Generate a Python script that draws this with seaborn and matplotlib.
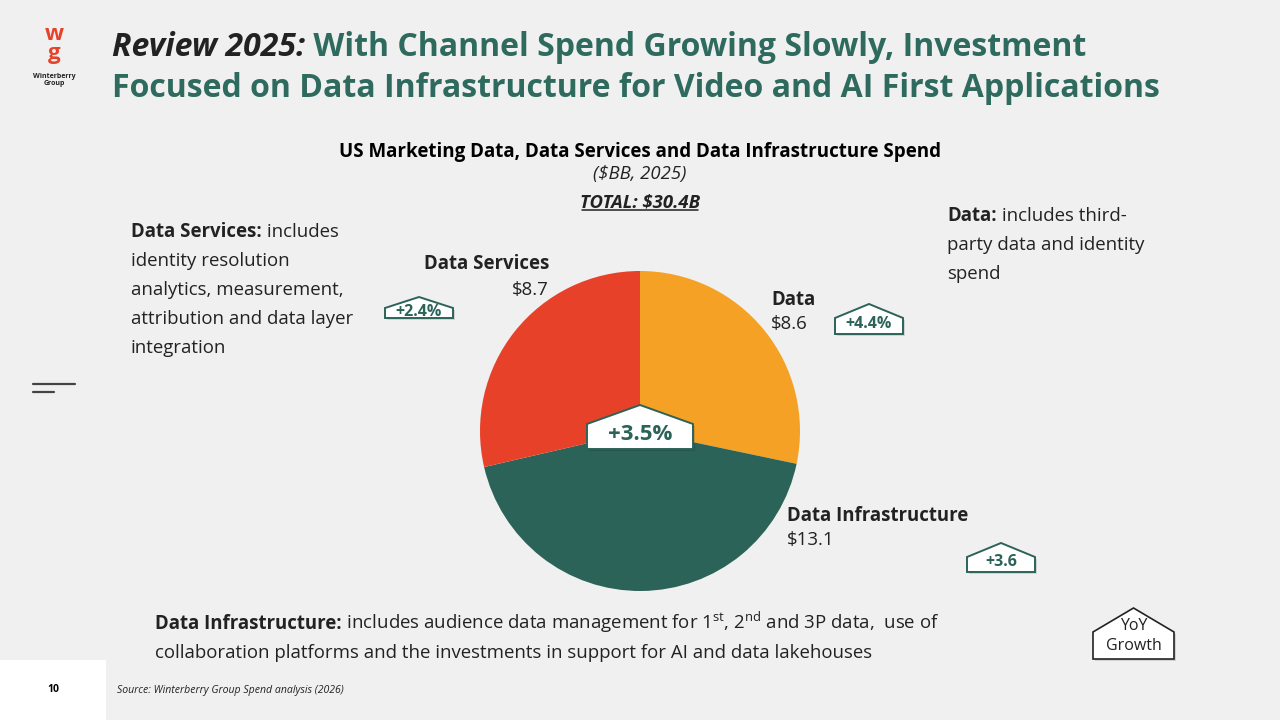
import matplotlib
matplotlib.use("Agg")
import matplotlib.pyplot as plt
import seaborn as sns
from matplotlib.patches import Polygon, Rectangle

# data
segments = ["Data", "Data Infrastructure", "Data Services"]
spend = [8.6, 13.1, 8.7]
growth = ["+4.4%", "+3.6", "+2.4%"]
total_growth = "+3.5%"
total_label = "TOTAL: $30.4B"

sns.set_theme(style="white")
plt.rcParams["font.family"] = ["Open Sans", "DejaVu Sans"]
plt.rcParams["mathtext.fontset"] = "custom"
plt.rcParams["mathtext.rm"] = "Open Sans"

BG = "#f0f0f0"
GREEN = "#2c6358"
TITLE_GREEN = "#2e6b5e"
DARK = "#222222"
palette = sns.color_palette(["#f5a125", "#2c6358", "#e8412a"])

fig = plt.figure(figsize=(12.8, 7.2), dpi=100, facecolor=BG)

# pie: centre (640, 431) px, radius 160 px
pie_ax = fig.add_axes([480 / 1280, (720 - 591) / 720, 320 / 1280, 320 / 720])
pie_ax.pie(spend, colors=palette, startangle=90, counterclock=False,
           radius=1, wedgeprops=dict(linewidth=0))
pie_ax.set_xlim(-1, 1)
pie_ax.set_ylim(-1, 1)
pie_ax.set_facecolor("none")

ov = fig.add_axes([0, 0, 1, 1], zorder=5)
ov.set_xlim(0, 1280)
ov.set_ylim(720, 0)
ov.axis("off")
ov.patch.set_alpha(0)


def chain(prev, text, **kw):
    # put text right after prev, on the same baseline
    fig.canvas.draw()
    x1 = prev.get_window_extent().x1
    x, y = prev.get_position()
    return ov.text(x1, y, text, va="baseline", ha="left", **kw)


def house(x0, x1, apex, shoulder, bottom, label, size, color=GREEN, weight="bold", lw=1.4,
          ls=1.0, frac=0.35):
    xm = (x0 + x1) / 2
    pts = [(x0, bottom), (x0, shoulder), (xm, apex), (x1, shoulder), (x1, bottom)]
    shadow = Polygon([(x + 2, y + 2) for x, y in pts], closed=True, fc="#000000", alpha=0.12, ec="none")
    ov.add_patch(shadow)
    ov.add_patch(Polygon(pts, closed=True, fc="white", ec=color, lw=lw))
    ov.text(xm, shoulder + frac * (bottom - shoulder), label, ha="center", va="center",
            fontsize=size, fontweight=weight, color=color, linespacing=ls)


# title
t1 = ov.text(112, 56, "Review 2025:", fontsize=23, fontweight="bold", fontstyle="italic",
             color=DARK, va="baseline")
chain(t1, " With Channel Spend Growing Slowly, Investment", fontsize=23,
      fontweight="bold", color=TITLE_GREEN)
ov.text(112, 97, "Focused on Data Infrastructure for Video and AI First Applications",
        fontsize=23, fontweight="bold", color=TITLE_GREEN, va="baseline")

# logo
ov.text(54, 34, "w", fontsize=16, fontweight="bold", color="#e8412a", ha="center", va="center")
ov.text(54, 53, "g", fontsize=16, fontweight="bold", color="#e8412a", ha="center", va="center")
ov.text(54, 80, "Winterberry\nGroup", fontsize=5, fontweight="bold", color=DARK,
        ha="center", va="center", linespacing=1.1)

# left dashes
ov.plot([33, 75], [384, 384], color="#444444", lw=1.6)
ov.plot([33, 54], [392, 392], color="#444444", lw=1.6)

# chart titles
ov.text(640, 152, "US Marketing Data, Data Services and Data Infrastructure Spend",
        fontsize=13.5, fontweight="bold", color="black", ha="center", va="center")
ov.text(640, 174, "($BB, 2025)", fontsize=13.3, fontstyle="italic", color=DARK,
        ha="center", va="center")
tt = ov.text(640, 203, total_label, fontsize=13.3, fontweight="bold", fontstyle="italic",
             color=DARK, ha="center", va="center")
fig.canvas.draw()
bb = tt.get_window_extent()
ov.plot([bb.x0 + 2, bb.x1 - 2], [720 - bb.y0 - 2, 720 - bb.y0 - 2], color=DARK, lw=1.1)

# slice labels
LBL = 13.4
ov.text(549, 264, segments[2], fontsize=LBL, fontweight="bold", color=DARK, ha="right", va="center")
ov.text(549, 290, f"${spend[2]:.1f}", fontsize=LBL, color=DARK, ha="right", va="center")
ov.text(771, 300, segments[0], fontsize=LBL, fontweight="bold", color=DARK, ha="left", va="center")
ov.text(771, 324, f"${spend[0]:.1f}", fontsize=LBL, color=DARK, ha="left", va="center")
ov.text(787, 516, segments[1], fontsize=LBL, fontweight="bold", color=DARK, ha="left", va="center")
ov.text(787, 540, f"${spend[1]:.1f}", fontsize=LBL, color=DARK, ha="left", va="center")

# growth badges
house(385, 453, 297, 308, 318, growth[2], 11.5)
house(835, 903, 304, 318, 334, growth[0], 11.5)
house(967, 1035, 543, 557, 572, growth[1], 11.5)
house(587, 693, 405, 424, 449, total_growth, 16, frac=0.4)
house(1093, 1174, 608, 632, 659, "YoY\nGrowth", 11.5, color=DARK, weight="normal", lw=1.2,
      ls=1.3, frac=0.15)

# descriptions
BODY = 13.4
d1 = ov.text(131, 237, "Data Services:", fontsize=BODY, fontweight="bold", color=DARK, va="baseline")
chain(d1, " includes", fontsize=BODY, color=DARK)
for i, line in enumerate(["identity resolution", "analytics, measurement,",
                          "attribution and data layer", "integration"]):
    ov.text(131, 237 + 29 * (i + 1), line, fontsize=BODY, color=DARK, va="baseline")

d2 = ov.text(947, 221, "Data:", fontsize=BODY, fontweight="bold", color=DARK, va="baseline")
chain(d2, " includes third-", fontsize=BODY, color=DARK)
for i, line in enumerate(["party data and identity", "spend"]):
    ov.text(947, 221 + 29 * (i + 1), line, fontsize=BODY, color=DARK, va="baseline")

d3 = ov.text(155, 629, "Data Infrastructure:", fontsize=BODY, fontweight="bold", color=DARK, va="baseline")
chain(d3, r" includes audience data management for 1$^{\mathrm{st}}$, 2$^{\mathrm{nd}}$ and 3P data,  use of",
      fontsize=BODY, color=DARK)
ov.text(155, 658, "collaboration platforms and the investments in support for AI and data lakehouses",
        fontsize=BODY, color=DARK, va="baseline")

# footer
ov.add_patch(Rectangle((0, 660), 106, 60, fc="white", ec="none"))
ov.text(53, 690, "10", fontsize=7.5, fontweight="bold", color="black", ha="center", va="center")
ov.text(117, 690, "Source: Winterberry Group Spend analysis (2026)", fontsize=7.6,
        fontstyle="italic", color=DARK, ha="left", va="center")

fig.savefig("out.png", dpi=100, facecolor=BG)
